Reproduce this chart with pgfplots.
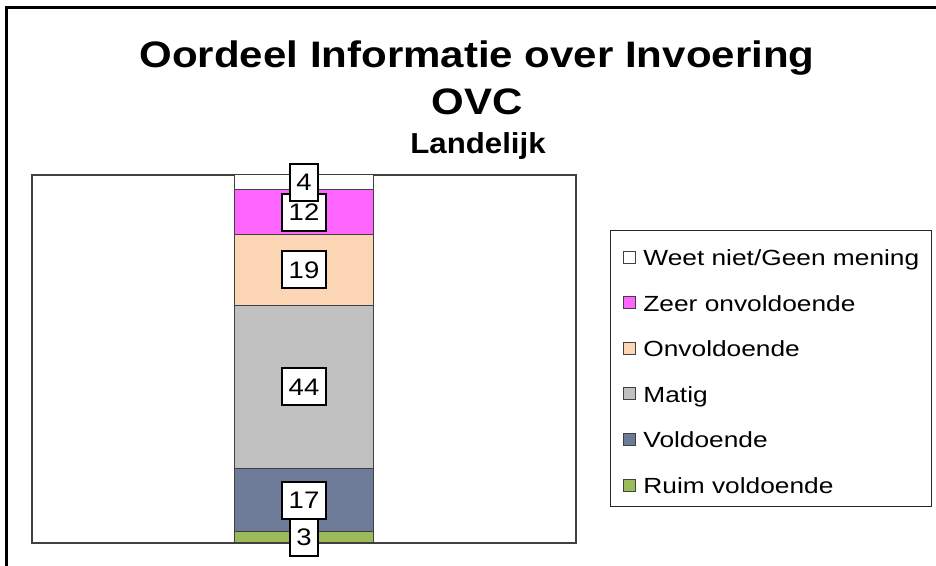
\documentclass[border=0pt]{standalone}
\usepackage{fontspec}
\setmainfont{Liberation Sans}
\newfontfamily\titlefont[FakeStretch=1.14]{Liberation Sans}
\newfontfamily\subfont[FakeStretch=1.08]{Liberation Sans}
\newfontfamily\legfont[FakeStretch=1.2]{Liberation Sans}
\newfontfamily\labfont[FakeStretch=1.15]{Liberation Sans}
\usepackage{pgfplots}
\pgfplotsset{compat=1.18}
\definecolor{cMag}{HTML}{FF66FF}
\definecolor{cPeach}{HTML}{FCD5B5}
\definecolor{cGray}{HTML}{C0C0C0}
\definecolor{cSlate}{HTML}{6D7B99}
\definecolor{cGreen}{HTML}{9BBB59}
\definecolor{cEdge}{HTML}{404040}
\begin{document}
\begin{tikzpicture}[x=1bp,y=1bp]
\useasboundingbox (0,0) rectangle (936,566);
\draw[line width=3bp] (6,0) -- (6,558) -- (936,558);
\node[anchor=base, inner sep=0pt, font=\titlefont\fontsize{37}{44}\selectfont\bfseries] at (477,498) {Oordeel Informatie over Invoering};
\node[anchor=base, inner sep=0pt, font=\titlefont\fontsize{37}{44}\selectfont\bfseries] at (477,451) {OVC};
\node[anchor=base, inner sep=0pt, font=\subfont\fontsize{29}{34}\selectfont\bfseries] at (478,412) {Landelijk};
\begin{axis}[at={(32bp,23bp)}, anchor=south west, scale only axis,
  width=544bp, height=368bp,
  xmin=-1, xmax=1, ymin=0, ymax=99,
  xtick=\empty, ytick=\empty,
  axis line style={draw=cEdge, line width=1.2bp},
  ybar stacked, bar width=139bp,
  reverse legend,
  legend cell align=left,
  legend image code/.code={\draw[#1, draw=cEdge, line width=0.9bp] (0bp,-8.5bp) rectangle (12bp,3.5bp);},
  legend style={at={(1.0625,0.8505)}, anchor=north west, draw=black!85, line width=1bp,
    font=\legfont\fontsize{22}{26}\selectfont, inner xsep=12bp, inner ysep=13bp,
    row sep=23.6bp, column sep=8bp,
    nodes={inner sep=0pt, text height=22bp, text depth=0bp}},
]
\addplot[fill=cGreen, draw=cEdge, line width=1bp] coordinates {(0,3)};
\addlegendentry{Ruim voldoende}
\addplot[fill=cSlate, draw=cEdge, line width=1bp] coordinates {(0,17)};
\addlegendentry{Voldoende}
\addplot[fill=cGray, draw=cEdge, line width=1bp] coordinates {(0,44)};
\addlegendentry{Matig}
\addplot[fill=cPeach, draw=cEdge, line width=1bp] coordinates {(0,19)};
\addlegendentry{Onvoldoende}
\addplot[fill=cMag, draw=cEdge, line width=1bp] coordinates {(0,12)};
\addlegendentry{Zeer onvoldoende}
\addplot[fill=white, draw=cEdge, line width=1bp] coordinates {(0,4)};
\addlegendentry{Weet niet/Geen mening}
\end{axis}
\begin{axis}[at={(32bp,23bp)}, anchor=south west, scale only axis,
  width=544bp, height=368bp,
  xmin=-1, xmax=1, ymin=0, ymax=99, hide axis]
\addplot[only marks, mark=none, nodes near coords, point meta=explicit symbolic,
  every node near coord/.append style={anchor=center, draw=black, fill=white, line width=2bp,
    font=\labfont\fontsize{24}{28}\selectfont, inner xsep=6.5bp, inner ysep=0bp,
    minimum height=37bp}]
  coordinates {(0,1.5)[3] (0,11.5)[17] (0,42)[44] (0,73.5)[19] (0,89)[12] (0,97)[4]};
\end{axis}
\end{tikzpicture}
\end{document}
